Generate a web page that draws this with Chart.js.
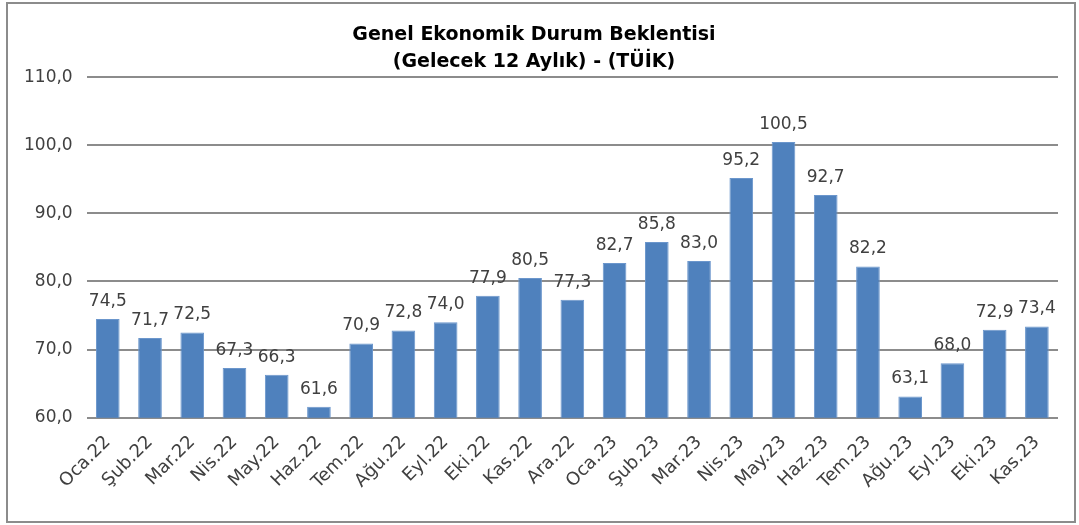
<!DOCTYPE html>
<html>
<head>
<meta charset="utf-8">
<script src="https://cdn.jsdelivr.net/npm/chart.js@4"></script>
<style>
  html, body { margin: 0; padding: 0; background: #fff; }
  #wrap { position: relative; width: 1079px; height: 525px; }
  #frame { position: absolute; left: 6px; top: 2px; width: 1066px; height: 517px; border: 2px solid #8c8c8c; }
  canvas { position: absolute; left: 0; top: 0; }
</style>
</head>
<body>
<div id="wrap">
  <div id="frame"></div>
  <canvas id="chart" width="1079" height="525"></canvas>
</div>
<script>
const months = ['Oca.22', 'Şub.22', 'Mar.22', 'Nis.22', 'May.22', 'Haz.22', 'Tem.22', 'Ağu.22', 'Eyl.22', 'Eki.22', 'Kas.22', 'Ara.22',
  'Oca.23', 'Şub.23', 'Mar.23', 'Nis.23', 'May.23', 'Haz.23', 'Tem.23', 'Ağu.23', 'Eyl.23', 'Eki.23', 'Kas.23']
const values = [74.5, 71.7, 72.5, 67.3, 66.3, 61.6, 70.9, 72.8, 74.0, 77.9, 80.5, 77.3,
  82.7, 85.8, 83.0, 95.2, 100.5, 92.7, 82.2, 63.1, 68.0, 72.9, 73.4]
const titleLines = ['Genel Ekonomik Durum Beklentisi', '(Gelecek 12 Aylık) - (TÜİK)']

const fmt = v => v.toFixed(1).replace('.', ',')
const fontFamily = '"DejaVu Sans", sans-serif'

// value labels above each bar
const barLabels = {
  id: 'barLabels',
  afterDatasetsDraw(chart) {
    const ctx = chart.ctx
    const meta = chart.getDatasetMeta(0)
    ctx.save()
    ctx.font = '17px ' + fontFamily
    ctx.fillStyle = '#404040'
    ctx.textAlign = 'center'
    ctx.textBaseline = 'bottom'
    meta.data.forEach((bar, i) => {
      ctx.fillText(fmt(values[i]), bar.x, bar.y - 9)
    })
    ctx.restore()
  }
}

new Chart(document.getElementById('chart'), {
  type: 'bar',
  data: {
    labels: months,
    datasets: [{
      data: values,
      backgroundColor: '#4f81bd',
      borderColor: '#6b96cc',
      borderWidth: 1,
      barPercentage: 0.56,
      categoryPercentage: 1
    }]
  },
  options: {
    responsive: false,
    animation: false,
    layout: { padding: { left: 10, right: 21, top: 12, bottom: 26 } },
    plugins: {
      legend: { display: false },
      tooltip: { enabled: false },
      title: {
        display: true,
        text: titleLines,
        color: '#000',
        font: { family: fontFamily, size: 19, weight: 'bold', lineHeight: 1.4 },
        padding: { top: 10, bottom: 2 }
      }
    },
    scales: {
      x: {
        grid: { display: false },
        border: { display: false },
        ticks: {
          color: '#404040',
          font: { family: fontFamily, size: 18 },
          maxRotation: 45,
          minRotation: 45,
          padding: 6
        }
      },
      y: {
        min: 60,
        max: 110,
        ticks: {
          stepSize: 10,
          color: '#404040',
          font: { family: fontFamily, size: 17 },
          padding: 14,
          callback: v => fmt(v)
        },
        grid: { color: '#8c8c8c', lineWidth: 2, drawTicks: false },
        border: { display: false }
      }
    }
  },
  plugins: [barLabels]
})
</script>
</body>
</html>
